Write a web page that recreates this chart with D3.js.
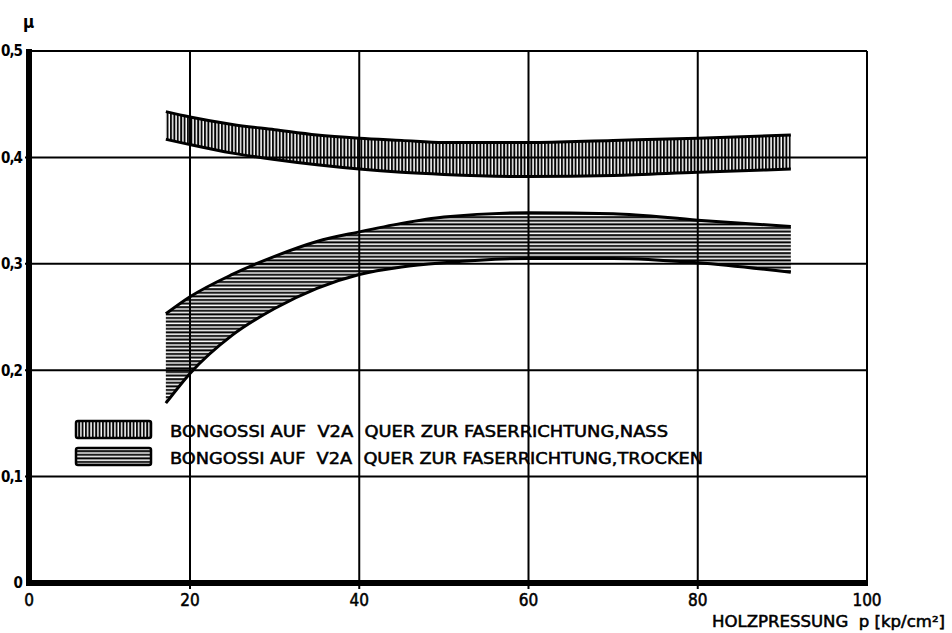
<!DOCTYPE html>
<html>
<head>
<meta charset="utf-8">
<script src="https://cdn.jsdelivr.net/npm/d3@7/dist/d3.min.js"></script>
<style>
  html, body { margin: 0; padding: 0; background: #fff; }
  svg { display: block; }
  text { font-family: "DejaVu Sans Condensed", "DejaVu Sans", sans-serif; fill: #000; }
</style>
</head>
<body>
<svg id="chart" width="952" height="633"></svg>
<script>
// ---- data ----
const pressure      = [17, 20, 25, 30, 35, 40, 45, 50, 60, 70, 80, 91];
const nassUpper     = [0.443, 0.438, 0.431, 0.426, 0.421, 0.418, 0.416, 0.414, 0.414, 0.416, 0.418, 0.421];
const nassLower     = [0.417, 0.412, 0.404, 0.398, 0.393, 0.389, 0.386, 0.384, 0.382, 0.383, 0.386, 0.389];
const trockenUpper  = [0.253, 0.269, 0.290, 0.307, 0.321, 0.330, 0.338, 0.344, 0.348, 0.347, 0.341, 0.335];
const trockenLower  = [0.169, 0.197, 0.233, 0.258, 0.277, 0.290, 0.297, 0.301, 0.305, 0.305, 0.301, 0.292];
const xTicks        = [0, 20, 40, 60, 80, 100];
const yTicks        = [0, 0.1, 0.2, 0.3, 0.4, 0.5];
const yTickLabels   = ["0", "0,1", "0,2", "0,3", "0,4", "0,5"];
const legendLabels  = ["BONGOSSI AUF  V2A  QUER ZUR FASERRICHTUNG,NASS",
                       "BONGOSSI AUF  V2A  QUER ZUR FASERRICHTUNG,TROCKEN"];
const yAxisLabel    = "μ";
const xAxisLabel    = "HOLZPRESSUNG  p [kp/cm²]";

// ---- scales ----
const svg = d3.select("#chart");
const x = d3.scaleLinear().domain([0, 20, 100]).range([29, 190, 867]);
const y = d3.scaleLinear().domain([0, 0.5]).range([583, 51]);

// ---- patterns ----
const defs = svg.append("defs");
const pv = defs.append("pattern").attr("id", "vhatch").attr("patternUnits", "userSpaceOnUse")
  .attr("width", 3.4).attr("height", 10);
pv.append("line").attr("x1", 1).attr("x2", 1).attr("y1", 0).attr("y2", 10)
  .attr("stroke", "#000").attr("stroke-width", 1.9);
const ph = defs.append("pattern").attr("id", "hhatch").attr("patternUnits", "userSpaceOnUse")
  .attr("width", 10).attr("height", 3.6);
ph.append("line").attr("x1", 0).attr("x2", 10).attr("y1", 1.2).attr("y2", 1.2)
  .attr("stroke", "#000").attr("stroke-width", 2);

// ---- grid ----
const g = svg.append("g");
g.selectAll(".vgrid").data(xTicks.filter(d => d > 0 && d < 100)).join("line")
  .attr("x1", d => x(d)).attr("x2", d => x(d))
  .attr("y1", y(0.5)).attr("y2", y(0) + 6)
  .attr("stroke", "#000").attr("stroke-width", 2);
g.selectAll(".hgrid").data(yTicks.filter(d => d > 0 && d < 0.5)).join("line")
  .attr("x1", x(0) - 4).attr("x2", x(100))
  .attr("y1", d => y(d)).attr("y2", d => y(d))
  .attr("stroke", "#000").attr("stroke-width", 2);
g.append("line").attr("x1", x(0)).attr("x2", x(100)).attr("y1", y(0.5)).attr("y2", y(0.5))
  .attr("stroke", "#000").attr("stroke-width", 2);
g.append("line").attr("x1", x(100)).attr("x2", x(100)).attr("y1", y(0.5)).attr("y2", y(0))
  .attr("stroke", "#000").attr("stroke-width", 2);

// ---- bands ----
function band(upper, lower, pat) {
  const data = pressure.map((p, i) => ({ p, u: upper[i], l: lower[i] }));
  const area = d3.area().x(d => x(d.p)).y0(d => y(d.l)).y1(d => y(d.u)).curve(d3.curveMonotoneX);
  svg.append("path").datum(data).attr("d", area).attr("fill", `url(#${pat})`);
  const lu = d3.line().x(d => x(d.p)).y(d => y(d.u)).curve(d3.curveMonotoneX);
  const ll = d3.line().x(d => x(d.p)).y(d => y(d.l)).curve(d3.curveMonotoneX);
  svg.append("path").datum(data).attr("d", lu).attr("fill", "none").attr("stroke", "#000").attr("stroke-width", 3);
  svg.append("path").datum(data).attr("d", ll).attr("fill", "none").attr("stroke", "#000").attr("stroke-width", 3);
}
band(nassUpper, nassLower, "vhatch");
band(trockenUpper, trockenLower, "hhatch");

// ---- axes (thick) ----
svg.append("line").attr("x1", x(0)).attr("x2", x(0)).attr("y1", y(0.5) - 2).attr("y2", y(0) + 3)
  .attr("stroke", "#000").attr("stroke-width", 6);
svg.append("line").attr("x1", x(0) - 3).attr("x2", x(100) + 1).attr("y1", y(0)).attr("y2", y(0))
  .attr("stroke", "#000").attr("stroke-width", 6);

// ---- tick labels ----
svg.selectAll(".ylab").data(yTicks).join("text")
  .attr("x", 22).attr("y", d => y(d)).attr("dy", "0.36em")
  .attr("text-anchor", "end").attr("font-size", 15).attr("font-weight", "bold")
  .attr("letter-spacing", -1)
  .text((d, i) => yTickLabels[i]);
svg.selectAll(".xlab").data(xTicks).join("text")
  .attr("x", d => x(d)).attr("y", 606)
  .attr("text-anchor", "middle").attr("font-size", 17)
  .attr("stroke", "#000").attr("stroke-width", 0.5)
  .text(d => d);
svg.append("text").attr("x", 23).attr("y", 28).attr("font-size", 17).attr("font-weight", "bold")
  .text(yAxisLabel);
svg.append("text").attr("x", 712).attr("y", 627).attr("font-size", 16)
  .attr("textLength", 233).attr("lengthAdjust", "spacingAndGlyphs")
  .attr("stroke", "#000").attr("stroke-width", 0.5)
  .style("white-space", "pre").text(xAxisLabel);

// ---- legend ----
const legY = [421, 448];
const legPat = ["vhatch", "hhatch"];
const leg = svg.append("g");
legY.forEach((ly, i) => {
  leg.append("rect").attr("x", 76).attr("y", ly).attr("width", 75).attr("height", 17)
    .attr("rx", 2).attr("fill", `url(#${legPat[i]})`).attr("stroke", "#000").attr("stroke-width", 2.5);
  leg.append("text").attr("x", 170).attr("y", ly + 16).attr("font-size", 16)
    .attr("textLength", i === 0 ? 498 : 533).attr("lengthAdjust", "spacingAndGlyphs")
    .attr("stroke", "#000").attr("stroke-width", 0.5)
    .style("white-space", "pre").text(legendLabels[i]);
});
</script>
</body>
</html>
